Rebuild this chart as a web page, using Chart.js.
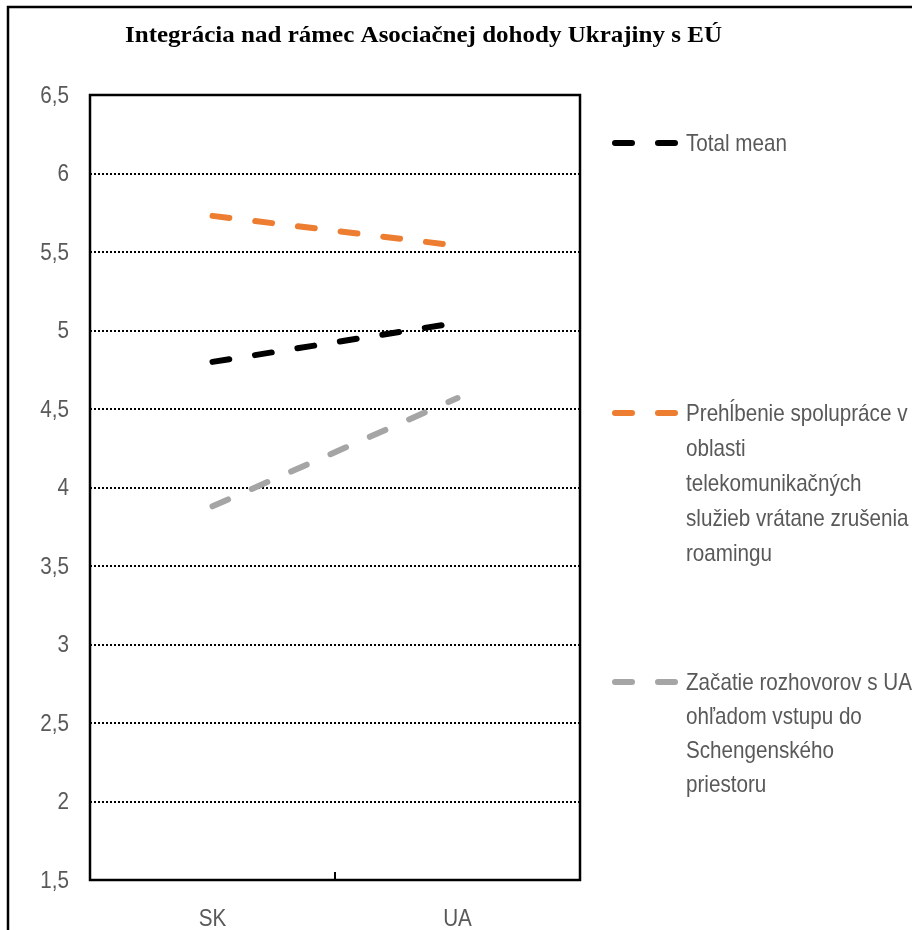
<!DOCTYPE html>
<html>
<head>
<meta charset="utf-8">
<script src="https://cdn.jsdelivr.net/npm/chart.js@4/dist/chart.umd.min.js"></script>
<style>
  html, body { margin: 0; padding: 0; background: #fff; }
  canvas { display: block; }
</style>
</head>
<body>
<canvas id="chart" width="912" height="930"></canvas>
<script>
// data
const categories = ['SK', 'UA'];
const totalMean = [4.80, 5.05];
const telecomCoop = [5.73, 5.54];
const schengenTalks = [3.88, 4.57];
const yTicks = [1.5, 2, 2.5, 3, 3.5, 4, 4.5, 5, 5.5, 6, 6.5];

const chartTitle = 'Integrácia nad rámec Asociačnej dohody Ukrajiny s EÚ';
const totalLabel = ['Total mean'];
const telecomLabel = ['Prehĺbenie spolupráce v', 'oblasti', 'telekomunikačných', 'služieb vrátane zrušenia', 'roamingu'];
const schengenLabel = ['Začatie rozhovorov s UA', 'ohľadom vstupu do', 'Schengenského', 'priestoru'];

// no narrow sans installed, so squeeze Liberation Sans a bit
const FONT = "24px 'Liberation Sans', Arial, sans-serif";
const SQUEEZE = 0.86;
const TEXT_GREY = '#595959';
const DASH = [17, 26];

const mkLine = (label, data, color) => ({
  label: label,
  data: data,
  borderColor: color,
  backgroundColor: color,
  borderWidth: 6,
  borderDash: DASH,
  borderCapStyle: 'round',
  pointRadius: 0,
  fill: false,
  tension: 0
});

const narrowText = (ctx, text, x, y, align) => {
  ctx.save();
  ctx.translate(x, y);
  ctx.scale(SQUEEZE, 1);
  ctx.textAlign = align;
  ctx.fillText(text, 0, 0);
  ctx.restore();
};

// frame, plot box, axis labels, title and the hand-placed legend
const decor = {
  id: 'decor',
  beforeDatasetsDraw(chart) {
    const { ctx, chartArea: a, scales } = chart;
    ctx.save();
    ctx.strokeStyle = '#000';
    ctx.lineWidth = 2.5;
    ctx.strokeRect(a.left, a.top, a.right - a.left, a.bottom - a.top);
    // tick between the categories, pointing inwards
    const mid = Math.round(scales.x.getPixelForValue(0.5));
    ctx.lineWidth = 2;
    ctx.beginPath();
    ctx.moveTo(mid, a.bottom);
    ctx.lineTo(mid, a.bottom - 8);
    ctx.stroke();

    // tick labels
    ctx.fillStyle = TEXT_GREY;
    ctx.font = FONT;
    ctx.textBaseline = 'middle';
    scales.y.ticks.forEach(t => {
      narrowText(ctx, String(t.value).replace('.', ','), 69, scales.y.getPixelForValue(t.value) + 1, 'right');
    });
    categories.forEach((c, i) => {
      narrowText(ctx, c, scales.x.getPixelForValue(i), 919, 'center');
    });
    ctx.restore();
  },
  afterDraw(chart) {
    const { ctx } = chart;
    ctx.save();
    // outer frame (cropped on right and bottom)
    ctx.strokeStyle = '#000';
    ctx.lineWidth = 2.5;
    ctx.beginPath();
    ctx.moveTo(8, 930);
    ctx.lineTo(8, 7);
    ctx.lineTo(912, 7);
    ctx.stroke();

    // title
    ctx.fillStyle = '#000';
    ctx.font = "bold 23px 'Liberation Serif', serif";
    ctx.textBaseline = 'alphabetic';
    ctx.textAlign = 'left';
    const w = ctx.measureText(chartTitle).width;
    ctx.save();
    ctx.translate(125, 42);
    ctx.scale(597 / w, 1);
    ctx.fillText(chartTitle, 0, 0);
    ctx.restore();

    // legend
    const rows = [
      { lines: totalLabel, y: 143, gap: 35 },
      { lines: telecomLabel, y: 413, gap: 35 },
      { lines: schengenLabel, y: 682, gap: 34 }
    ];
    chart.data.datasets.forEach((ds, i) => {
      const r = rows[i];
      ctx.strokeStyle = ds.borderColor;
      ctx.lineWidth = 6;
      ctx.lineCap = 'round';
      ctx.setLineDash(DASH);
      ctx.beginPath();
      ctx.moveTo(615, r.y);
      ctx.lineTo(675, r.y);
      ctx.stroke();
      ctx.setLineDash([]);
      ctx.fillStyle = TEXT_GREY;
      ctx.font = FONT;
      ctx.textBaseline = 'middle';
      r.lines.forEach((t, k) => narrowText(ctx, t, 686, r.y + 1 + k * r.gap, 'left'));
    });
    ctx.restore();
  }
};

new Chart(document.getElementById('chart').getContext('2d'), {
  type: 'line',
  data: {
    labels: categories,
    datasets: [
      mkLine(totalLabel.join(' '), totalMean, '#000000'),
      mkLine(telecomLabel.join(' '), telecomCoop, '#ED7D31'),
      mkLine(schengenLabel.join(' '), schengenTalks, '#A5A5A5')
    ]
  },
  options: {
    responsive: false,
    animation: false,
    devicePixelRatio: 1,
    layout: { padding: { left: 10, top: 95, right: 332, bottom: 0 } },
    plugins: { legend: { display: false }, title: { display: false }, tooltip: { enabled: false } },
    scales: {
      x: {
        type: 'category',
        offset: true,
        grid: { display: false, drawTicks: false },
        border: { display: false },
        ticks: { display: false },
        afterFit: (s) => { s.height = 50; }
      },
      y: {
        min: 1.5,
        max: 6.5,
        afterBuildTicks: (s) => { s.ticks = yTicks.map(v => ({ value: v })); },
        grid: {
          drawTicks: false,
          lineWidth: 2,
          color: (c) => (c.tick && (c.tick.value === 6.5 || c.tick.value === 1.5)) ? 'rgba(0,0,0,0)' : '#000'
        },
        border: { display: false, dash: [2, 2] },
        ticks: { display: false },
        afterFit: (s) => { s.width = 80; }
      }
    }
  },
  plugins: [decor]
});
</script>
</body>
</html>
